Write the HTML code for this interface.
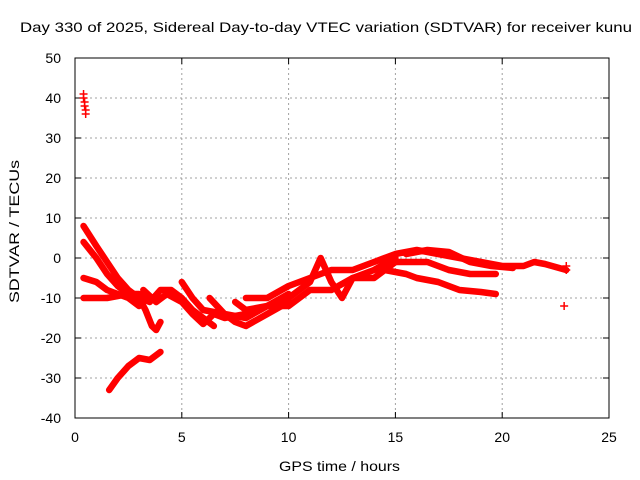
<!DOCTYPE html>
<html><head><meta charset="utf-8"><style>
body{margin:0;background:#fff}
svg{display:block;font-family:"Liberation Sans",sans-serif}
</style></head><body>
<svg id="c" width="640" height="480">
<text x="20" y="32" font-size="14" textLength="612" lengthAdjust="spacingAndGlyphs">Day 330 of 2025, Sidereal Day-to-day VTEC variation (SDTVAR) for receiver kunu</text>
<text x="279" y="471" font-size="14" textLength="121" lengthAdjust="spacingAndGlyphs">GPS time / hours</text>
<text transform="translate(19,303) rotate(-90)" font-size="14" textLength="143" lengthAdjust="spacingAndGlyphs">SDTVAR / TECUs</text>
<g id="grid"></g><g id="marks"></g>
<rect x="75" y="58" width="534" height="360" fill="none" stroke="#000" stroke-width="1"/>
</svg>
<script>
const xTicks=[0,5,10,15,20,25];
const yTicks=[-40,-30,-20,-10,0,10,20,30,40,50];
const tracks=[
[[0.4,8],[1,3],[1.5,-1],[2,-5],[2.5,-8],[3,-10],[3.3,-13],[3.6,-17],[3.8,-18],[4,-16]],
[[0.4,4],[1,0],[1.5,-4],[2,-7],[2.5,-9],[3,-9],[3.5,-10],[4,-10]],
[[0.4,-5],[1,-6],[1.5,-8],[2,-9],[2.5,-10],[3,-12]],
[[0.4,-10],[1,-10],[1.5,-10],[2,-9.5],[2.5,-9],[3,-10],[3.5,-11],[4,-8],[4.5,-8],[5,-10],[5.5,-13],[6,-15],[6.5,-17]],
[[1.6,-33],[2,-30],[2.5,-27],[3,-25],[3.5,-25.5],[4,-23.5]],
[[3.2,-8],[3.8,-11],[4.3,-9],[5,-11],[5.5,-14],[6,-16.5],[6.5,-14],[7,-15],[8,-14],[9,-12],[10,-12],[11,-8],[12,-8],[13,-5],[14,-3],[15,0]],
[[5,-6],[5.5,-10],[6,-13],[7,-14],[7.5,-16],[8,-17],[9,-14],[10,-11]],
[[6.3,-10],[7,-14],[8,-15],[9,-12],[10,-9]],
[[7.5,-11],[8,-13],[9,-12],[10,-10],[11,-6],[11.5,0],[12,-6],[12.5,-10],[13,-5],[14,-5],[15,-1]],
[[8,-10],[9,-10],[10,-7],[11,-5],[12,-3],[13,-3],[14,-1],[15,1],[16,2],[17,1],[18,0],[19,-1],[20,-2],[21,-2],[21.5,-1],[22,-1.5],[23,-3]],
[[14.5,-3],[15.5,-4],[16,-5],[17,-6],[18,-8],[19,-8.5],[19.7,-9]],
[[15,-1],[16.5,-1],[17.5,-3],[18.5,-4],[19.7,-4]],
[[15.5,1],[16.5,2],[17.5,1.5],[18.5,-1],[19.5,-2],[20.5,-2.5]]
];
const outliers=[[0.4,41],[0.4,40],[0.45,39],[0.45,38],[0.5,37],[0.5,36],[22.9,-12],[23,-3],[23,-2]];
const X=h=>75+h*534/25, Y=v=>58+(50-v)*4;
const ns="http://www.w3.org/2000/svg", svg=document.getElementById('c');
const grid=document.getElementById('grid'), marks=document.getElementById('marks');
function mk(t,a,p){const e=document.createElementNS(ns,t);for(const k in a)e.setAttribute(k,a[k]);p.appendChild(e);return e;}
xTicks.forEach(t=>{const x=X(t);
 if(t>0&&t<25){const l=mk('line',{x1:x,y1:58,x2:x,y2:418,stroke:'#a0a0a0','stroke-dasharray':'2,3'},grid);
 
 }
 mk('line',{x1:x,y1:418,x2:x,y2:412,stroke:'#000'},grid);mk('line',{x1:x,y1:58,x2:x,y2:64,stroke:'#000'},grid);
 const tx=mk('text',{x:x,y:442,'font-size':14,'text-anchor':'middle'},svg);tx.textContent=t;
 
 });
yTicks.forEach(t=>{const y=Y(t);
 if(t>-40&&t<50){const l=mk('line',{x1:75,y1:y,x2:609,y2:y,stroke:'#a0a0a0','stroke-dasharray':'2,3'},grid);
 
 }
 mk('line',{x1:75,y1:y,x2:81,y2:y,stroke:'#000'},grid);mk('line',{x1:609,y1:y,x2:603,y2:y,stroke:'#000'},grid);
 const tx=mk('text',{x:61,y:y+5,'font-size':14,'text-anchor':'end'},svg);tx.textContent=t;
 
 });
tracks.forEach(tr=>{const p=mk('polyline',{points:tr.map(d=>X(d[0])+','+Y(d[1])).join(' '),fill:'none',stroke:'#ff0000','stroke-width':6.5,'stroke-linejoin':'round','stroke-linecap':'round'},marks);
 
 });
outliers.forEach(d=>{const x=X(d[0]),y=Y(d[1]);
 const p=mk('path',{d:`M${x-4},${y}H${x+4}M${x},${y-4}V${y+4}`,stroke:'#ff0000','stroke-width':1.5},marks);
 
 });
</script>
</body></html>
